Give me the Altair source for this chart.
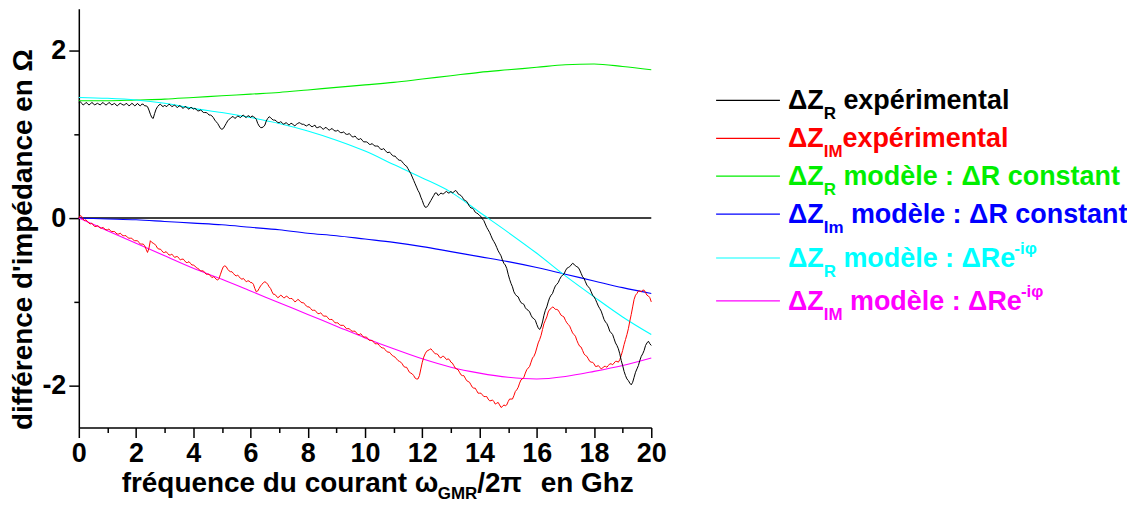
import altair as alt
import pandas as pd

# ---------------- data ----------------
freq_model = list(range(0, 21))
zr_const = [1.40, 1.40, 1.41, 1.42, 1.44, 1.46, 1.48, 1.50, 1.53, 1.56, 1.59,
            1.62, 1.66, 1.70, 1.74, 1.77, 1.80, 1.83, 1.84, 1.81, 1.77]
zim_const = [0.00, -0.01, -0.02, -0.04, -0.06, -0.08, -0.11, -0.14, -0.18, -0.21, -0.25,
             -0.29, -0.34, -0.40, -0.46, -0.52, -0.59, -0.67, -0.75, -0.83, -0.90]
zr_phase = [1.44, 1.43, 1.41, 1.37, 1.31, 1.26, 1.20, 1.13, 1.04, 0.93, 0.80,
            0.64, 0.48, 0.31, 0.07, -0.17, -0.42, -0.69, -0.94, -1.18, -1.39]
zim_phase = [0.00, -0.15, -0.30, -0.45, -0.60, -0.73, -0.87, -1.01, -1.15, -1.29, -1.43,
             -1.56, -1.68, -1.78, -1.85, -1.90, -1.92, -1.89, -1.83, -1.76, -1.67]

# measured curves: readings every 0.1 GHz (0 .. 20) ...
freq_exp = [i / 10 for i in range(201)]
zr_exp = [1.38, 1.37, 1.36, 1.37, 1.36, 1.37, 1.36, 1.36, 1.37, 1.36, 1.36,
          1.37, 1.36, 1.35, 1.36, 1.36, 1.35, 1.36, 1.35, 1.36, 1.35,
          1.35, 1.36, 1.34, 1.33, 1.24, 1.19, 1.30, 1.35, 1.34, 1.35,
          1.34, 1.35, 1.34, 1.33, 1.34, 1.32, 1.33, 1.31, 1.32, 1.30,
          1.30, 1.28, 1.28, 1.26, 1.25, 1.23, 1.20, 1.15, 1.10, 1.06,
          1.10, 1.16, 1.19, 1.21, 1.20, 1.21, 1.22, 1.21, 1.22, 1.20,
          1.21, 1.18, 1.10, 1.08, 1.11, 1.19, 1.20, 1.17, 1.16, 1.14,
          1.14, 1.13, 1.12, 1.13, 1.11, 1.12, 1.14, 1.12, 1.11, 1.11,
          1.10, 1.10, 1.08, 1.09, 1.07, 1.08, 1.06, 1.06, 1.05, 1.04,
          1.03, 1.02, 1.01, 1.00, 0.99, 0.97, 0.96, 0.94, 0.93, 0.91,
          0.90, 0.88, 0.87, 0.86, 0.84, 0.82, 0.81, 0.78, 0.77, 0.74,
          0.72, 0.69, 0.67, 0.63, 0.59, 0.53, 0.45, 0.37, 0.30, 0.21,
          0.13, 0.15, 0.21, 0.27, 0.30, 0.28, 0.29, 0.31, 0.30, 0.32,
          0.31, 0.32, 0.28, 0.25, 0.21, 0.17, 0.12, 0.10, 0.06, 0.03,
          -0.01, -0.07, -0.14, -0.21, -0.28, -0.35, -0.42, -0.50, -0.56, -0.67,
          -0.78, -0.88, -0.93, -0.98, -1.02, -1.07, -1.10, -1.16, -1.20, -1.27,
          -1.33, -1.24, -1.10, -1.00, -0.92, -0.85, -0.79, -0.73, -0.68, -0.63,
          -0.59, -0.56, -0.55, -0.58, -0.62, -0.70, -0.76, -0.82, -0.88, -0.94,
          -1.01, -1.08, -1.16, -1.24, -1.30, -1.37, -1.44, -1.52, -1.62, -1.76,
          -1.88, -1.94, -1.99, -1.90, -1.80, -1.70, -1.62, -1.52, -1.47, -1.52]
zim_exp = [0.00, 0.02, -0.03, -0.04, -0.07, -0.08, -0.10, -0.10, -0.12, -0.13, -0.14,
           -0.15, -0.16, -0.18, -0.19, -0.20, -0.21, -0.23, -0.24, -0.26, -0.27,
           -0.29, -0.31, -0.33, -0.41, -0.27, -0.30, -0.33, -0.37, -0.39, -0.41,
           -0.42, -0.44, -0.45, -0.46, -0.48, -0.49, -0.51, -0.53, -0.54, -0.56,
           -0.59, -0.61, -0.63, -0.65, -0.67, -0.69, -0.70, -0.73, -0.72, -0.62,
           -0.57, -0.61, -0.64, -0.66, -0.69, -0.70, -0.73, -0.74, -0.75, -0.77,
           -0.79, -0.88, -0.84, -0.79, -0.76, -0.79, -0.84, -0.91, -0.93, -0.94,
           -0.93, -0.95, -0.94, -0.96, -0.98, -0.99, -0.98, -1.01, -1.03, -1.06,
           -1.08, -1.10, -1.12, -1.14, -1.15, -1.17, -1.19, -1.21, -1.23, -1.25,
           -1.27, -1.28, -1.30, -1.32, -1.34, -1.35, -1.37, -1.39, -1.40, -1.42,
           -1.44, -1.46, -1.48, -1.50, -1.52, -1.55, -1.57, -1.60, -1.62, -1.65,
           -1.68, -1.71, -1.74, -1.78, -1.81, -1.85, -1.88, -1.92, -1.88, -1.72,
           -1.62, -1.58, -1.56, -1.60, -1.62, -1.66, -1.65, -1.67, -1.68, -1.72,
           -1.76, -1.80, -1.84, -1.88, -1.91, -1.95, -1.99, -2.03, -2.06, -2.09,
           -2.11, -2.13, -2.16, -2.18, -2.19, -2.21, -2.23, -2.25, -2.24, -2.19,
           -2.16, -2.12, -2.05, -1.97, -1.92, -1.85, -1.79, -1.72, -1.65, -1.55,
           -1.45, -1.33, -1.22, -1.12, -1.08, -1.07, -1.09, -1.13, -1.17, -1.22,
           -1.27, -1.33, -1.39, -1.46, -1.53, -1.58, -1.64, -1.68, -1.72, -1.74,
           -1.77, -1.78, -1.79, -1.77, -1.76, -1.74, -1.73, -1.71, -1.69, -1.58,
           -1.45, -1.32, -1.15, -0.97, -0.90, -0.87, -0.86, -0.89, -0.93, -1.00]

# ... and the noisy readings in between (0.05, 0.15, ... 19.95 GHz)
freq_mid = [i / 10 + 0.05 for i in range(200)]
zr_mid = [1.39, 1.35, 1.38, 1.35, 1.38, 1.35, 1.37, 1.35, 1.38, 1.35,
          1.38, 1.35, 1.37, 1.34, 1.37, 1.35, 1.37, 1.34, 1.37, 1.34,
          1.37, 1.34, 1.36, 1.34, 1.29, 1.20, 1.25, 1.33, 1.36, 1.33,
          1.33, 1.36, 1.33, 1.35, 1.32, 1.34, 1.31, 1.33, 1.30, 1.32,
          1.31, 1.28, 1.29, 1.26, 1.26, 1.23, 1.22, 1.17, 1.13, 1.07,
          1.07, 1.13, 1.18, 1.21, 1.19, 1.22, 1.20, 1.23, 1.20, 1.22,
          1.22, 1.20, 1.13, 1.08, 1.09, 1.16, 1.21, 1.18, 1.17, 1.14,
          1.15, 1.12, 1.14, 1.11, 1.13, 1.10, 1.13, 1.13, 1.12, 1.10,
          1.12, 1.09, 1.11, 1.08, 1.09, 1.06, 1.08, 1.05, 1.07, 1.04,
          1.05, 1.02, 1.03, 1.00, 1.01, 0.97, 0.98, 0.94, 0.95, 0.91,
          0.91, 0.88, 0.89, 0.86, 0.86, 0.82, 0.83, 0.79, 0.79, 0.75,
          0.74, 0.70, 0.69, 0.65, 0.62, 0.56, 0.49, 0.41, 0.33, 0.25,
          0.16, 0.13, 0.18, 0.24, 0.30, 0.27, 0.30, 0.29, 0.32, 0.30,
          0.30, 0.33, 0.29, 0.27, 0.22, 0.20, 0.14, 0.12, 0.07, 0.05,
          0.02, -0.03, -0.11, -0.17, -0.25, -0.31, -0.39, -0.45, -0.54, -0.60,
          -0.73, -0.82, -0.91, -0.94, -1.01, -1.03, -1.09, -1.12, -1.19, -1.22,
          -1.31, -1.30, -1.16, -1.06, -0.95, -0.90, -0.81, -0.77, -0.70, -0.67,
          -0.60, -0.58, -0.54, -0.57, -0.59, -0.66, -0.72, -0.80, -0.84, -0.92,
          -0.97, -1.05, -1.11, -1.21, -1.26, -1.35, -1.39, -1.49, -1.56, -1.70,
          -1.83, -1.92, -1.97, -1.96, -1.84, -1.76, -1.65, -1.58, -1.49, -1.50]
zim_mid = [0.03, -0.01, -0.02, -0.06, -0.06, -0.10, -0.09, -0.12, -0.11, -0.14,
           -0.13, -0.16, -0.16, -0.19, -0.18, -0.21, -0.21, -0.24, -0.24, -0.27,
           -0.27, -0.31, -0.31, -0.37, -0.36, -0.29, -0.31, -0.36, -0.37, -0.41,
           -0.40, -0.44, -0.43, -0.47, -0.46, -0.50, -0.49, -0.53, -0.52, -0.56,
           -0.57, -0.60, -0.63, -0.63, -0.67, -0.67, -0.71, -0.71, -0.74, -0.67,
           -0.58, -0.58, -0.63, -0.64, -0.68, -0.68, -0.72, -0.72, -0.76, -0.75,
           -0.77, -0.84, -0.87, -0.81, -0.77, -0.77, -0.82, -0.88, -0.91, -0.95,
           -0.92, -0.95, -0.93, -0.96, -0.96, -1.00, -0.97, -1.00, -1.01, -1.05,
           -1.06, -1.10, -1.10, -1.14, -1.13, -1.17, -1.17, -1.21, -1.21, -1.25,
           -1.25, -1.28, -1.28, -1.32, -1.32, -1.35, -1.35, -1.39, -1.38, -1.42,
           -1.42, -1.46, -1.46, -1.50, -1.50, -1.54, -1.55, -1.59, -1.60, -1.64,
           -1.66, -1.70, -1.72, -1.77, -1.78, -1.84, -1.86, -1.91, -1.92, -1.80,
           -1.66, -1.59, -1.57, -1.58, -1.62, -1.63, -1.67, -1.65, -1.69, -1.69,
           -1.73, -1.79, -1.81, -1.87, -1.88, -1.94, -1.96, -2.02, -2.03, -2.09,
           -2.09, -2.13, -2.13, -2.18, -2.17, -2.22, -2.20, -2.26, -2.23, -2.23,
           -2.16, -2.16, -2.07, -2.02, -1.93, -1.90, -1.81, -1.77, -1.67, -1.61,
           -1.49, -1.40, -1.26, -1.18, -1.09, -1.06, -1.09, -1.10, -1.16, -1.18,
           -1.25, -1.29, -1.37, -1.41, -1.50, -1.54, -1.62, -1.65, -1.71, -1.72,
           -1.77, -1.76, -1.80, -1.77, -1.78, -1.74, -1.75, -1.71, -1.72, -1.64,
           -1.51, -1.39, -1.23, -1.06, -0.92, -0.87, -0.88, -0.86, -0.92, -0.95]

series_names = ["zr_exp", "zim_exp", "zr_const", "zim_const", "zr_phase", "zim_phase"]
series_colors = ["#000000", "#ff0000", "#00ee00", "#0000ff", "#00ffff", "#ff00ff"]

x_major = list(range(0, 21, 2))
x_minor = list(range(1, 20, 2))
y_major = [-2, 0, 2]
y_minor = [-1, 1]

# ---------------- layout / styles ----------------
FONT = "Liberation Sans"
W_PLOT, H_PLOT = 574, 420
FS_TICK = 27
FS_TITLE = 28
FS_LEG = 27
SUB = 17

models_df = pd.concat([
    pd.DataFrame({"x": freq_model, "y": zr_const, "series": "zr_const"}),
    pd.DataFrame({"x": freq_model, "y": zim_const, "series": "zim_const"}),
    pd.DataFrame({"x": freq_model, "y": zr_phase, "series": "zr_phase"}),
    pd.DataFrame({"x": freq_model, "y": zim_phase, "series": "zim_phase"}),
])
exp_df = pd.concat([
    pd.DataFrame({"x": freq_exp + freq_mid, "y": zr_exp + zr_mid, "series": "zr_exp"}),
    pd.DataFrame({"x": freq_exp + freq_mid, "y": zim_exp + zim_mid, "series": "zim_exp"}),
]).sort_values(["series", "x"])

xs = alt.Scale(domain=[0, 20], nice=False, zero=False)
ys = alt.Scale(domain=[-2.5, 2.5], nice=False, zero=False)
cs = alt.Scale(domain=series_names, range=series_colors)

common_axis = dict(grid=False, domainColor="black", tickColor="black", labelColor="black",
                   labelFont=FONT, labelFontWeight="bold", labelFontSize=FS_TICK,
                   tickWidth=1.5, domainWidth=1.5)

major_x = alt.Axis(values=x_major, tickSize=10, labelPadding=3, title=None, orient="bottom",
                   labelExpr="'' + datum.value", labelFlush=False, labelOverlap=False, **common_axis)
major_y = alt.Axis(values=y_major, tickSize=10, labelPadding=3, orient="left",
                   labelExpr="'' + datum.value", labelOverlap=False,
                   title="différence d'impédance en Ω", titleFont=FONT, titleFontWeight="bold",
                   titleFontSize=FS_TITLE, titleColor="black", titleAngle=270, titleX=-47, titleY=231,
                   titleAlign="center", titleBaseline="alphabetic", **common_axis)
minor_x = alt.Axis(values=x_minor, tickSize=5, labels=False, domain=False, title=None,
                   orient="bottom", grid=False, tickColor="black", tickWidth=1.5)
minor_y = alt.Axis(values=y_minor, tickSize=5, labels=False, domain=False, title=None,
                   orient="left", grid=False, tickColor="black", tickWidth=1.5)

zero_line = alt.Chart(pd.DataFrame({"y": [0]})).mark_rule(color="black", strokeWidth=1.5).encode(
    y=alt.Y("y:Q", scale=ys, axis=None))

models = alt.Chart(models_df).mark_line(strokeWidth=1.1, interpolate="monotone").encode(
    x=alt.X("x:Q", scale=xs, axis=major_x),
    y=alt.Y("y:Q", scale=ys, axis=major_y),
    color=alt.Color("series:N", scale=cs, legend=None),
)
minor = alt.Chart(models_df).mark_point(opacity=0).encode(
    x=alt.X("x:Q", scale=xs, axis=minor_x),
    y=alt.Y("y:Q", scale=ys, axis=minor_y),
)
exps = alt.Chart(exp_df).mark_line(strokeWidth=1.0).encode(
    x=alt.X("x:Q", scale=xs, axis=None),
    y=alt.Y("y:Q", scale=ys, axis=None),
    color=alt.Color("series:N", scale=cs, legend=None),
)

# ---------------- rich text (legend + x title) ----------------
WID = {' ': 278, "'": 238, '-': 333, '/': 278, ':': 333, '2': 556, 'A': 722, 'C': 722, 'G': 778,
       'I': 278, 'M': 833, 'R': 722, 'Z': 611, 'a': 556, 'c': 556, 'd': 611, 'e': 556, 'f': 333,
       'h': 611, 'i': 278, 'l': 278, 'm': 889, 'n': 611, 'o': 611, 'p': 611, 'q': 611, 'r': 389,
       's': 556, 't': 333, 'u': 611, 'x': 556, 'z': 500, 'é': 556, 'è': 556, 'Δ': 680, 'ω': 781,
       'π': 600, 'φ': 722}


def tw(s, size):
    return sum(WID.get(c, 556) for c in s) * size / 1000.0


def segments(x0, base, color, parts, main_size, sub_dy=10, sup_dy=-13):
    kinds = {"m": (main_size, 0), "s": (SUB, sub_dy), "u": (SUB, sup_dy)}
    rows = []
    x = x0
    for txt, kind in parts:
        size, dy = kinds[kind]
        stripped = txt.lstrip(" ")
        x += tw(txt[:len(txt) - len(stripped)], size)
        if kind == "s":
            x += 1
        rows.append({"text": stripped, "px": x, "py": base + dy, "size": size, "color": color})
        x += tw(stripped, size)
    return rows


legend_rows = [
    [("ΔZ", "m"), ("R", "s"), (" expérimental", "m")],
    [("ΔZ", "m"), ("IM", "s"), ("expérimental", "m")],
    [("ΔZ", "m"), ("R", "s"), (" modèle : ΔR constant", "m")],
    [("ΔZ", "m"), ("Im", "s"), (" modèle : ΔR constant", "m")],
    [("ΔZ", "m"), ("R", "s"), (" modèle : ΔRe", "m"), ("-iφ", "u")],
    [("ΔZ", "m"), ("IM", "s"), (" modèle : ΔRe", "m"), ("-iφ", "u")],
]
legend_y = [92, 130, 168, 206, 250, 293]
LEG_LINE_X1, LEG_LINE_X2, LEG_TEXT_X = 639, 703, 711

text_rows = []
for parts, ly, col in zip(legend_rows, legend_y, series_colors):
    text_rows += segments(LEG_TEXT_X, ly + 9, col, parts, FS_LEG)
text_rows += segments(43, 485, "#000000",
                      [("fréquence du courant ω", "m"), ("GMR", "s"), ("/2π", "m"), ("   en Ghz", "m")],
                      FS_TITLE, sub_dy=7)
text_df = pd.DataFrame(text_rows)

texts = alt.Chart(text_df).mark_text(align="left", baseline="alphabetic", font=FONT,
                                     fontWeight="bold").encode(
    x=alt.X("px:Q", scale=None, axis=None),
    y=alt.Y("py:Q", scale=None, axis=None),
    text="text:N",
    size=alt.Size("size:Q", scale=None, legend=None),
    color=alt.Color("color:N", scale=None, legend=None),
)

leg_lines_df = pd.DataFrame({"x1": [LEG_LINE_X1] * 6, "x2": [LEG_LINE_X2] * 6,
                             "y": legend_y, "color": series_colors})
leg_lines = alt.Chart(leg_lines_df).mark_rule(strokeWidth=1.2).encode(
    x=alt.X("x1:Q", scale=None, axis=None),
    x2="x2:Q",
    y=alt.Y("y:Q", scale=None, axis=None),
    color=alt.Color("color:N", scale=None, legend=None),
)

chart = alt.layer(zero_line, minor, models, exps, leg_lines, texts).resolve_scale(
    x="independent", y="independent", color="independent", size="independent"
).resolve_axis(x="independent", y="independent").properties(
    width=W_PLOT, height=H_PLOT,
    autosize=alt.AutoSizeParams(type="none"),
    padding={"left": 71, "top": 0, "right": 477, "bottom": 75},
).configure_view(stroke=None)

chart.save("out.html", embed_options={"renderer": "svg", "actions": False})
